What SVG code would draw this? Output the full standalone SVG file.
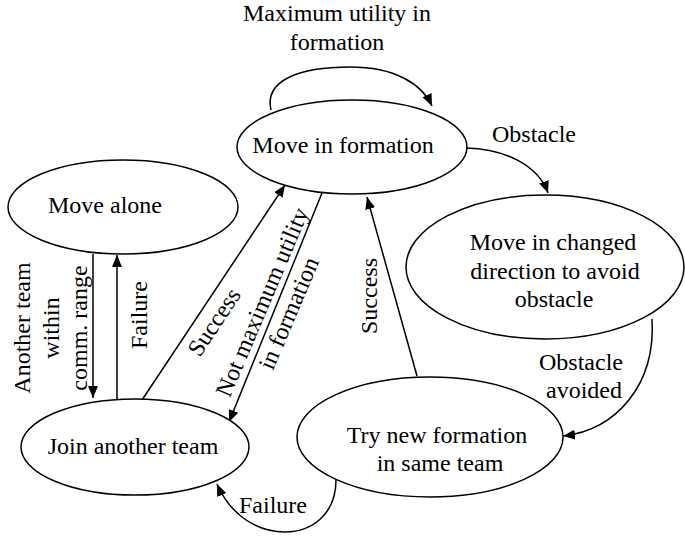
<svg xmlns="http://www.w3.org/2000/svg" width="685" height="536" viewBox="0 0 685 536" font-family="Liberation Serif, Times New Roman, serif">
<style>
.node{fill:#fff;stroke:#000;stroke-width:1.5}
.edge{fill:none;stroke:#000;stroke-width:1.5;marker-end:url(#arr)}
text{font-size:24px;fill:#000;text-anchor:middle}
</style>
<defs>
<marker id="arr" markerUnits="userSpaceOnUse" markerWidth="13" markerHeight="10" refX="12" refY="5" orient="auto">
<path d="M0,0 L12,5 L0,10 z" fill="#000"/>
</marker>
</defs>
<rect width="685" height="536" fill="#fff"/>
<g id="connectors">
<path class="edge" d="M93,254 L93,398"/>
<path class="edge" d="M117,400 L117,255"/>
<path class="edge" d="M142,400 L285,185"/>
<path class="edge" d="M322,193 L229,422"/>
<path class="edge" d="M417,376 L367,197"/>
<path class="edge" d="M271,110 C264,80 300,67 350,67 C395,67 422,84 432,106"/>
<path class="edge" d="M466,148 C505,149 538,165 548,193"/>
<path class="edge" d="M652,319 C656,385 616,430 563,436"/>
<path class="edge" d="M336,480 C336,514 312,532 285,532 C256,532 230,514 217,484"/>
</g>
<g id="labels">
<text x="337" y="21">Maximum utility in</text>
<text x="337" y="50">formation</text>
<text x="534" y="142">Obstacle</text>
<text x="581" y="370">Obstacle</text>
<text x="584" y="398">avoided</text>
<text x="273" y="513">Failure</text>
<text transform="translate(30,328) rotate(-90)">Another team</text>
<text transform="translate(59,328) rotate(-90)">within</text>
<text transform="translate(87,328) rotate(-90)">comm. range</text>
<text transform="translate(147,315) rotate(-90)">Failure</text>
<text transform="translate(377,296) rotate(-90)">Success</text>
<text transform="translate(214,322) rotate(-56.4)" y="8">Success</text>
<g transform="translate(262,302) rotate(-67)">
<text y="8">Not maximum utility</text>
<text y="37">in formation</text>
</g>
</g>
<g id="move-alone">
<ellipse class="node" cx="123" cy="207" rx="115" ry="47"/>
<text x="105" y="213">Move alone</text>
</g>
<g id="move-in-formation">
<ellipse class="node" cx="352" cy="147" rx="115" ry="47"/>
<text x="343" y="153">Move in formation</text>
</g>
<g id="move-changed-direction">
<ellipse class="node" cx="545" cy="267" rx="139" ry="72"/>
<text x="553" y="250">Move in changed</text>
<text x="555" y="279">direction to avoid</text>
<text x="554" y="307">obstacle</text>
</g>
<g id="join-another-team">
<ellipse class="node" cx="135" cy="447" rx="114" ry="48"/>
<text x="133" y="454">Join another team</text>
</g>
<g id="try-new-formation">
<ellipse class="node" cx="430" cy="437" rx="133" ry="60"/>
<text x="437" y="443">Try new formation</text>
<text x="440" y="471">in same team</text>
</g>
</svg>
